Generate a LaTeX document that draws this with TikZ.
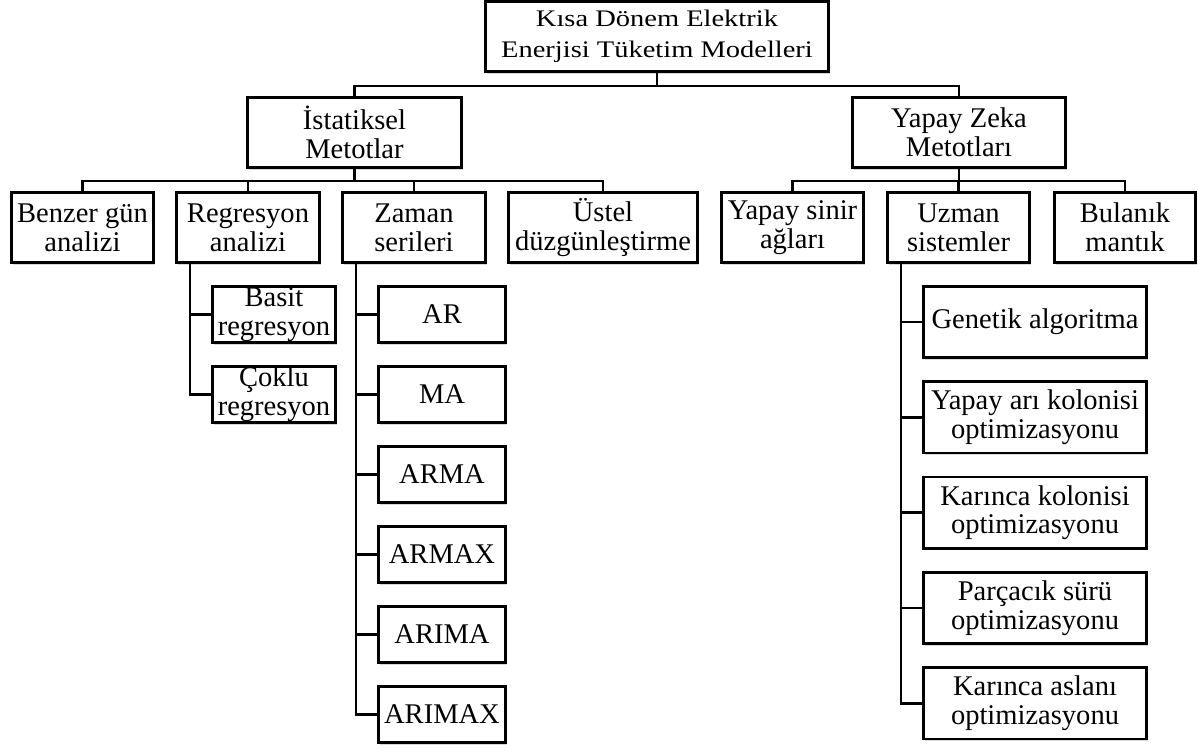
\documentclass[tikz,border=0pt]{standalone}
\usepackage{fontspec}
\setmainfont{Liberation Serif}
\newfontfamily\genisyazi{Liberation Serif}[FakeStretch=1.2]
\usetikzlibrary{positioning,shadows}

\tikzset{
	kutu/.style={draw, line width=2pt, fill=white, align=center, inner sep=0pt,
		font=\fontsize{21.4}{21.5}\selectfont, minimum height=52.5pt,
		drop shadow={opacity=0.3, shadow xshift=1.2pt, shadow yshift=-1.6pt}},
	altkutu/.style={kutu, minimum height=42pt},
	hat/.style={line width=1.8pt},
}

\begin{document}
\begin{tikzpicture}[x=0.75pt, y=-0.75pt]
	\useasboundingbox (0,0) rectangle (1198,751);
	
	% 1. kök kutusu
	\node [kutu, minimum width=257.5pt, font=\genisyazi\fontsize{17.8}{23.3}\selectfont] (kok) at (657,36.5) {Kısa Dönem Elektrik\\Enerjisi Tüketim Modelleri};
	
	% 2. iki ana yöntem
	\node [kutu, minimum width=160.5pt] (ist) at (354.5,132.5) {İstatiksel\\Metotlar};
	\node [kutu, minimum width=160pt] (yz) at (959,132.5) {Yapay Zeka\\Metotları};
	
	% 3. ikinci seviye
	\node [kutu, minimum width=106.5pt] (benzer) at (82.5,227.5) {Benzer gün\\analizi};
	\node [kutu, minimum width=107.5pt] (regr) at (248,227.5) {Regresyon\\analizi};
	\node [kutu, minimum width=107.5pt] (zaman) at (414,227.5) {Zaman\\serileri};
	\node [kutu, minimum width=142pt] (ustel) at (603,227.5) {Üstel\\düzgünleştirme};
	\node [kutu, minimum width=106.5pt] (ysa) at (792.5,227.5) {Yapay sinir\\ağları};
	\node [kutu, minimum width=106.5pt] (uzman) at (958.5,227.5) {Uzman\\sistemler};
	\node [kutu, minimum width=106pt] (bulanik) at (1125,227.5) {Bulanık\\mantık};
	
	% 4. alt listeler
	% regresyon
	\node [altkutu, minimum width=92.5pt] (basit) at (274,314.5) {Basit\\regresyon};
	\node [altkutu, minimum width=92.5pt, below=16pt of basit] (coklu) {Çoklu\\regresyon};
	
	% zaman serileri
	\node [altkutu, minimum width=95.5pt] (ar) at (442,314.5) {AR};
	\node [altkutu, minimum width=95.5pt, below=16pt of ar] (ma) {MA};
	\node [altkutu, minimum width=95.5pt, below=16pt of ma] (arma) {ARMA};
	\node [altkutu, minimum width=95.5pt, below=16pt of arma] (armax) {ARMAX};
	\node [altkutu, minimum width=95.5pt, below=16pt of armax] (arima) {ARIMA};
	\node [altkutu, minimum width=95.5pt, below=16pt of arima] (arimax) {ARIMAX};
	
	% uzman sistemler
	\node [kutu, minimum width=167.5pt, minimum height=53.5pt] (genetik) at (1035,322) {Genetik algoritma};
	\node [kutu, minimum width=167.5pt, minimum height=53.5pt, below=16pt of genetik] (ari) {Yapay arı kolonisi\\optimizasyonu};
	\node [kutu, minimum width=167.5pt, minimum height=53.5pt, below=16pt of ari] (karinca) {Karınca kolonisi\\optimizasyonu};
	\node [kutu, minimum width=167.5pt, minimum height=53.5pt, below=16pt of karinca] (parcacik) {Parçacık sürü\\optimizasyonu};
	\node [kutu, minimum width=167.5pt, minimum height=53.5pt, below=16pt of parcacik] (aslan) {Karınca aslanı\\optimizasyonu};
	
	% 5. bağlantılar
	\draw [hat] (kok.south) -- ++(0,13) coordinate (d1);
	\draw [hat] (ist.north) |- (d1) -| (yz.north);
	
	\draw [hat] (ist.south) -- ++(0,12) coordinate (d2);
	\draw [hat] (benzer.north) |- (d2) -| (ustel.north);
	\draw [hat] (regr.north) |- (d2);
	\draw [hat] (zaman.north) -- (zaman.north |- d2);
	
	\draw [hat] (yz.south) -- ++(0,12) coordinate (d3);
	\draw [hat] (ysa.north) |- (d3) -| (bulanik.north);
	\draw [hat] (uzman.north) -- (uzman.north |- d3);
	
	\foreach \c in {basit,coklu}
		\draw [hat] (regr.south west) ++(15,0) |- (\c.west);
	\foreach \c in {ar,ma,arma,armax,arima,arimax}
		\draw [hat] (zaman.south west) ++(15,0) |- (\c.west);
	\foreach \c in {genetik,ari,karinca,parcacik,aslan}
		\draw [hat] (uzman.south west) ++(15,0) |- (\c.west);
\end{tikzpicture}
\end{document}
